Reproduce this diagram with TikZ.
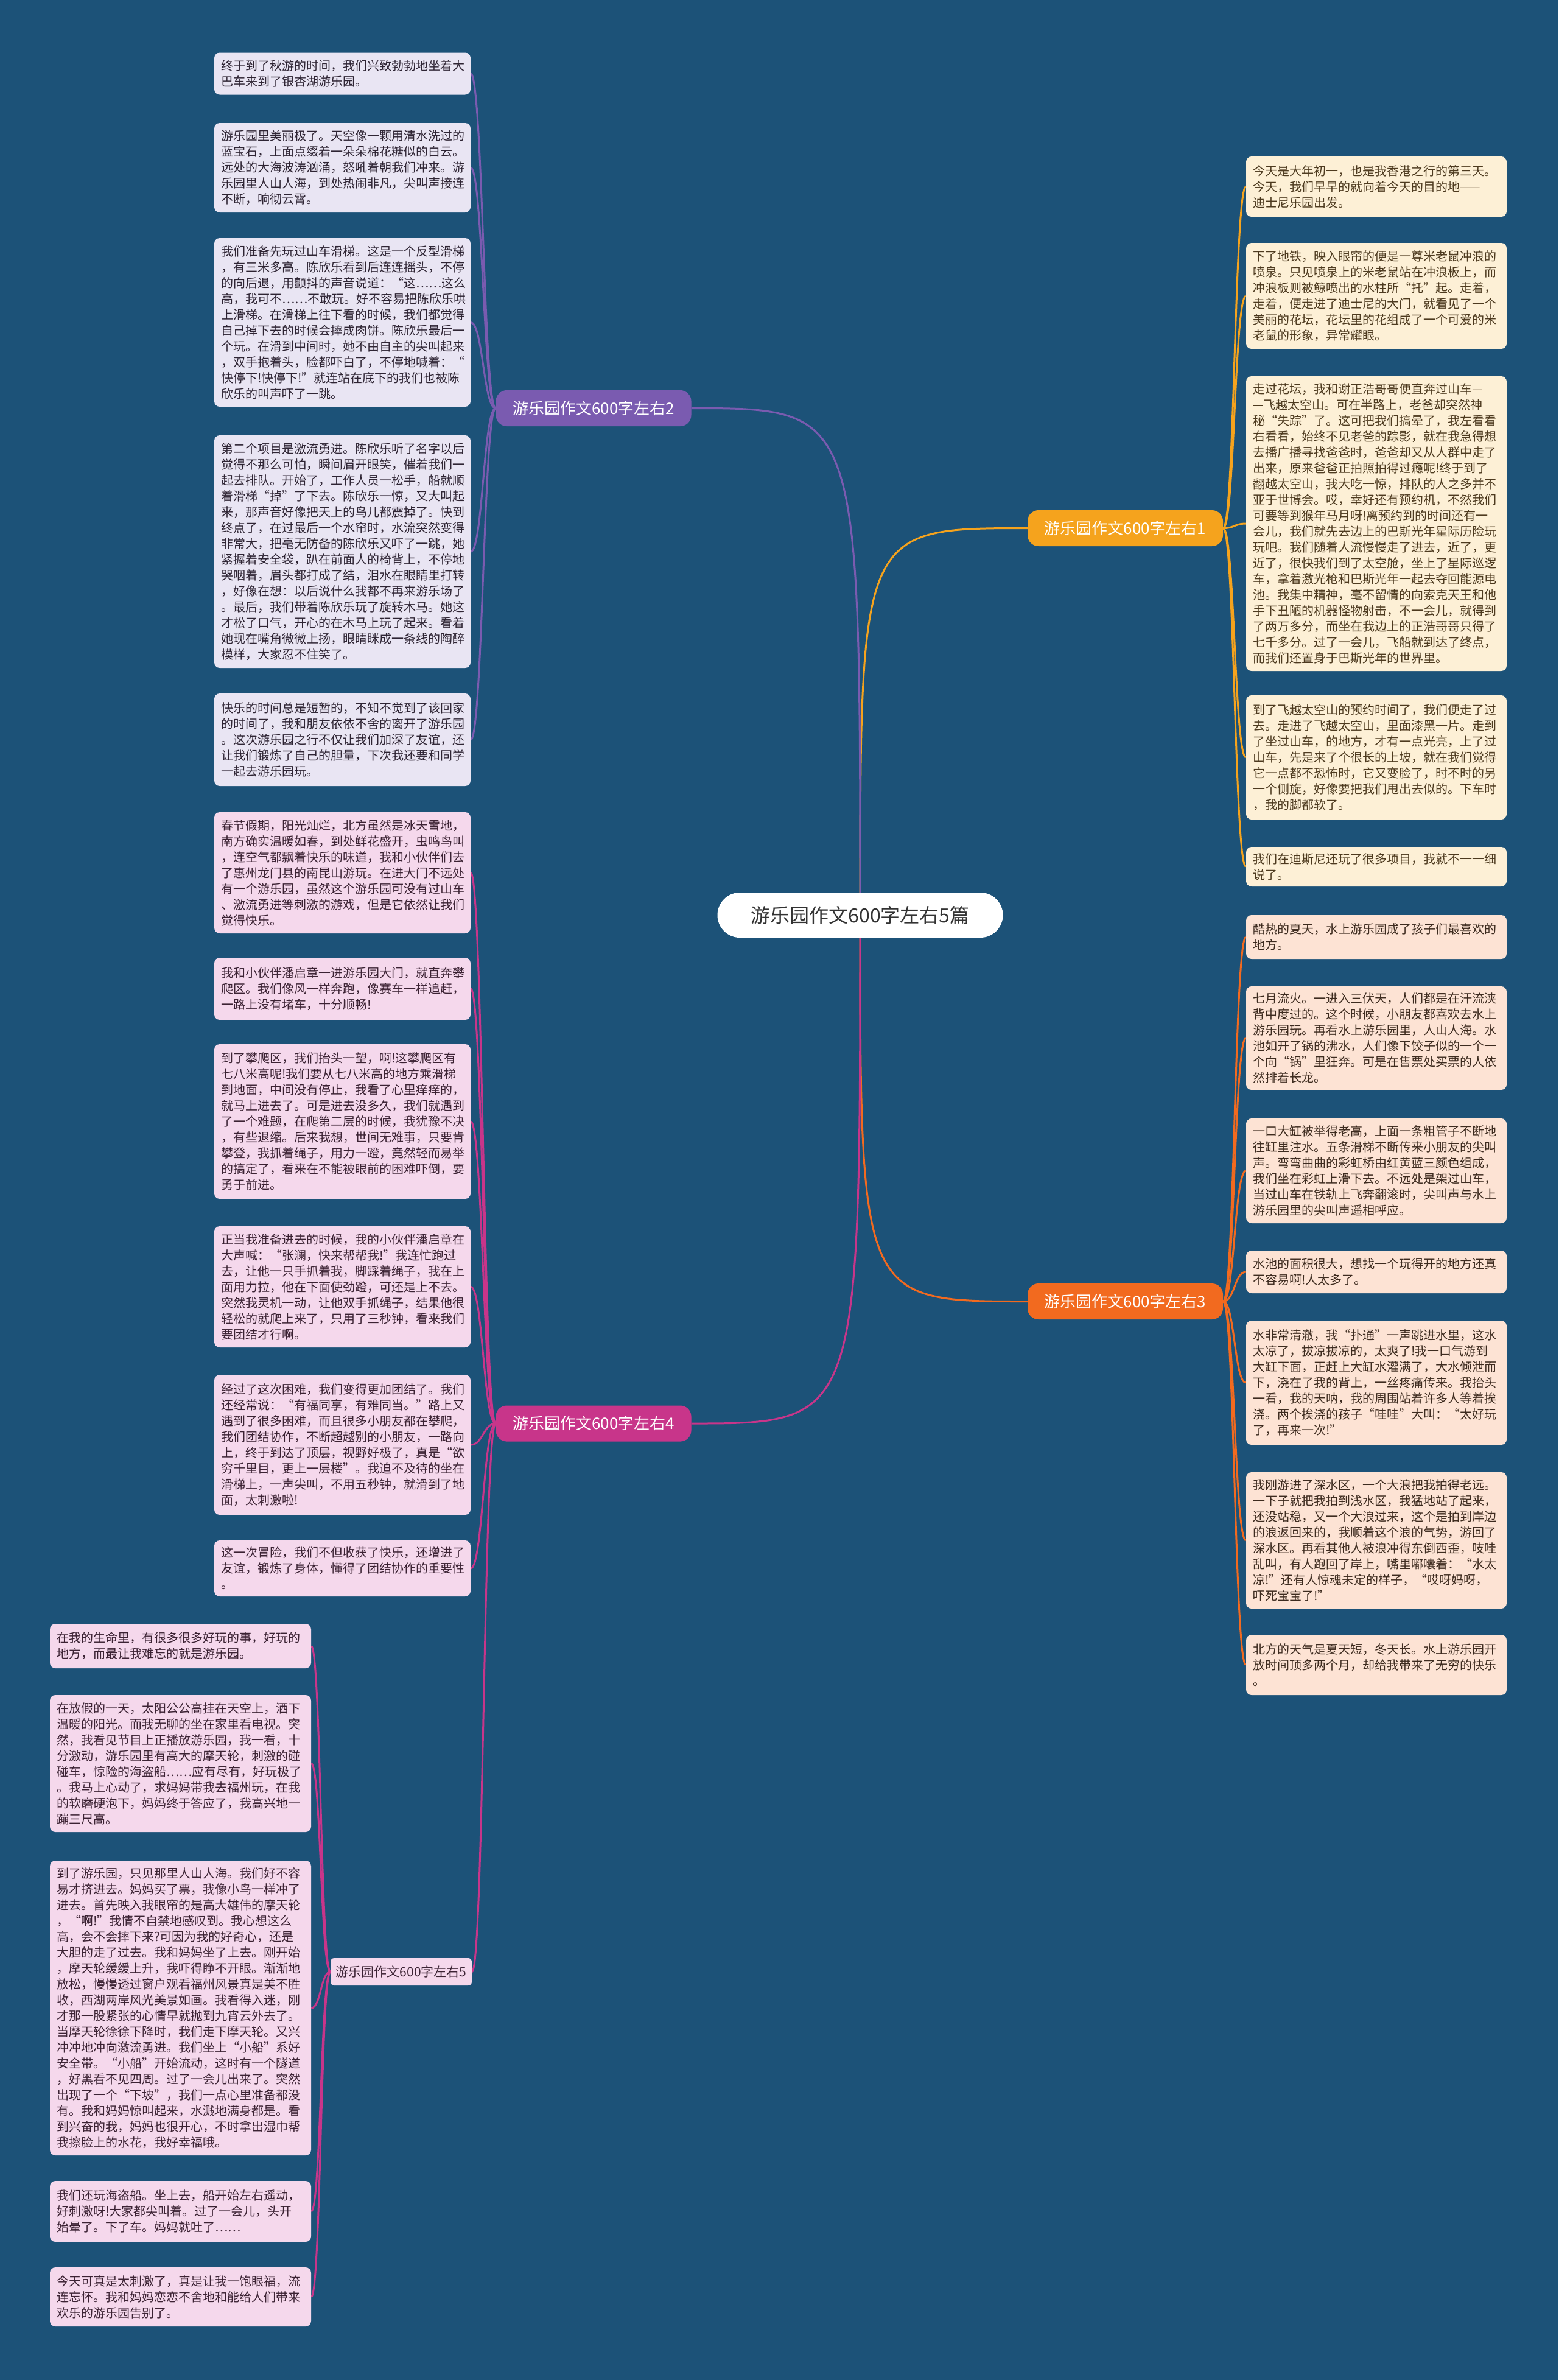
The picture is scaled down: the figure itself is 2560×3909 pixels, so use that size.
\documentclass[tikz,border=0pt]{standalone}
\usepackage{fontspec}
\setmainfont{Noto Sans CJK SC}
\definecolor{bgc}{HTML}{1C5278}
\definecolor{c1}{HTML}{F5A31D}
\definecolor{c2}{HTML}{7A5BB0}
\definecolor{c3}{HTML}{F26A1F}
\definecolor{c4}{HTML}{C8358A}
\definecolor{f1}{HTML}{FDF0D6}
\definecolor{f2}{HTML}{E9E5F3}
\definecolor{f3}{HTML}{FDE3D4}
\definecolor{f4}{HTML}{F5D8EC}
\definecolor{t1}{HTML}{4D3A1F}
\definecolor{t2}{HTML}{2E2433}
\definecolor{t3}{HTML}{3D2B1F}
\definecolor{t4}{HTML}{3B2233}
\pgfdeclarelayer{bglayer}
\pgfdeclarelayer{lines}
\pgfsetlayers{bglayer,lines,main}
\tikzset{
  leafbox/.style={rounded corners=9pt, align=left, inner xsep=11pt, inner ysep=0pt,
    font=\fontsize{20}{26}\selectfont, anchor=center},
  leftleaf/.style={leafbox, text width=399pt},
  rightleaf/.style={leafbox, text width=406pt},
  farleaf/.style={leafbox, text width=407pt},
  l2/.style={leftleaf, fill=f2, text=t2},
  l4/.style={leftleaf, fill=f4, text=t4},
  l5/.style={farleaf, fill=f4, text=t4},
  l1/.style={rightleaf, fill=f1, text=t1},
  l3/.style={rightleaf, fill=f3, text=t3},
  branchbox/.style={rounded corners=18pt, minimum width=321pt, minimum height=59pt,
    text=white, font=\fontsize{26}{30}\selectfont, inner sep=0pt},
  centerbox/.style={rounded corners=37pt, minimum width=469pt, minimum height=74pt,
    fill=white, text=black!80, font=\fontsize{32}{36}\selectfont, inner sep=0pt},
  conn/.style={line width=3pt},
}
\begin{document}
\begin{tikzpicture}[x=1pt,y=-1pt]
\begin{pgfonlayer}{bglayer}
\fill[bgc] (0,0) rectangle (2560,3909);
\end{pgfonlayer}
\useasboundingbox (0,0) rectangle (2560,3909);

% center and branches
\node[centerbox] (c) at (1413,1503) {游乐园作文600字左右5篇};
\node[branchbox, fill=c1] (b1) at (1848.5,867.5) {游乐园作文600字左右1};
\node[branchbox, fill=c2] (b2) at (975,670.5) {游乐园作文600字左右2};
\node[branchbox, fill=c3] (b3) at (1848.5,2137.5) {游乐园作文600字左右3};
\node[branchbox, fill=c4] (b4) at (975,2338) {游乐园作文600字左右4};
\node[rounded corners=6pt, minimum width=232pt, minimum height=45pt, inner sep=0pt,
  fill=f4, text=t4, font=\fontsize{21}{24}\selectfont] (b5) at (659,3238.5) {游乐园作文600字左右5};

% branch 2 leaves
\node[l2, minimum height=69pt] (A) at (562.5,121) {终于到了秋游的时间，我们兴致勃勃地坐着大\\巴车来到了银杏湖游乐园。};
\node[l2, minimum height=147pt] (B) at (562.5,275.5) {游乐园里美丽极了。天空像一颗用清水洗过的\\蓝宝石，上面点缀着一朵朵棉花糖似的白云。\\远处的大海波涛汹涌，怒吼着朝我们冲来。游\\乐园里人山人海，到处热闹非凡，尖叫声接连\\不断，响彻云霄。};
\node[l2, minimum height=277pt] (C) at (562.5,529.5) {我们准备先玩过山车滑梯。这是一个反型滑梯\\，有三米多高。陈欣乐看到后连连摇头，不停\\的向后退，用颤抖的声音说道：“这……这么\\高，我可不……不敢玩。好不容易把陈欣乐哄\\上滑梯。在滑梯上往下看的时候，我们都觉得\\自己掉下去的时候会摔成肉饼。陈欣乐最后一\\个玩。在滑到中间时，她不由自主的尖叫起来\\，双手抱着头，脸都吓白了，不停地喊着：“\\快停下!快停下!”就连站在底下的我们也被陈\\欣乐的叫声吓了一跳。};
\node[l2, minimum height=382pt] (D) at (562.5,906) {第二个项目是激流勇进。陈欣乐听了名字以后\\觉得不那么可怕，瞬间眉开眼笑，催着我们一\\起去排队。开始了，工作人员一松手，船就顺\\着滑梯“掉”了下去。陈欣乐一惊，又大叫起\\来，那声音好像把天上的鸟儿都震掉了。快到\\终点了，在过最后一个水帘时，水流突然变得\\非常大，把毫无防备的陈欣乐又吓了一跳，她\\紧握着安全袋，趴在前面人的椅背上，不停地\\哭咽着，眉头都打成了结，泪水在眼睛里打转\\，好像在想：以后说什么我都不再来游乐场了\\。最后，我们带着陈欣乐玩了旋转木马。她这\\才松了口气，开心的在木马上玩了起来。看着\\她现在嘴角微微上扬，眼睛眯成一条线的陶醉\\模样，大家忍不住笑了。};
\node[l2, minimum height=152pt] (E) at (562.5,1215) {快乐的时间总是短暂的，不知不觉到了该回家\\的时间了，我和朋友依依不舍的离开了游乐园\\。这次游乐园之行不仅让我们加深了友谊，还\\让我们锻炼了自己的胆量，下次我还要和同学\\一起去游乐园玩。};

% branch 4 leaves
\node[l4, minimum height=199pt] (F) at (562.5,1433.5) {春节假期，阳光灿烂，北方虽然是冰天雪地，\\南方确实温暖如春，到处鲜花盛开，虫鸣鸟叫\\，连空气都飘着快乐的味道，我和小伙伴们去\\了惠州龙门县的南昆山游玩。在进大门不远处\\有一个游乐园，虽然这个游乐园可没有过山车\\、激流勇进等刺激的游戏，但是它依然让我们\\觉得快乐。};
\node[l4, minimum height=102pt] (G) at (562.5,1624) {我和小伙伴潘启章一进游乐园大门，就直奔攀\\爬区。我们像风一样奔跑，像赛车一样追赶，\\一路上没有堵车，十分顺畅!};
\node[l4, minimum height=254pt] (H) at (562.5,1842) {到了攀爬区，我们抬头一望，啊!这攀爬区有\\七八米高呢!我们要从七八米高的地方乘滑梯\\到地面，中间没有停止，我看了心里痒痒的，\\就马上进去了。可是进去没多久，我们就遇到\\了一个难题，在爬第二层的时候，我犹豫不决\\，有些退缩。后来我想，世间无难事，只要肯\\攀登，我抓着绳子，用力一蹬，竟然轻而易举\\的搞定了，看来在不能被眼前的困难吓倒，要\\勇于前进。};
\node[l4, minimum height=199pt] (I) at (562.5,2113.5) {正当我准备进去的时候，我的小伙伴潘启章在\\大声喊：“张澜，快来帮帮我!”我连忙跑过\\去，让他一只手抓着我，脚踩着绳子，我在上\\面用力拉，他在下面使劲蹬，可还是上不去。\\突然我灵机一动，让他双手抓绳子，结果他很\\轻松的就爬上来了，只用了三秒钟，看来我们\\要团结才行啊。};
\node[l4, minimum height=230pt] (J) at (562.5,2373) {经过了这次困难，我们变得更加团结了。我们\\还经常说：“有福同享，有难同当。”路上又\\遇到了很多困难，而且很多小朋友都在攀爬，\\我们团结协作，不断超越别的小朋友，一路向\\上，终于到达了顶层，视野好极了，真是“欲\\穷千里目，更上一层楼”。我迫不及待的坐在\\滑梯上，一声尖叫，不用五秒钟，就滑到了地\\面，太刺激啦!};
\node[l4, minimum height=92pt] (K) at (562.5,2576) {这一次冒险，我们不但收获了快乐，还增进了\\友谊，锻炼了身体，懂得了团结协作的重要性\\。};

% branch 5 leaves
\node[l5, minimum height=73pt] (L) at (296.5,2703.5) {在我的生命里，有很多很多好玩的事，好玩的\\地方，而最让我难忘的就是游乐园。};
\node[l5, minimum height=225pt] (M) at (296.5,2896.5) {在放假的一天，太阳公公高挂在天空上，洒下\\温暖的阳光。而我无聊的坐在家里看电视。突\\然，我看见节目上正播放游乐园，我一看，十\\分激动，游乐园里有高大的摩天轮，刺激的碰\\碰车，惊险的海盗船……应有尽有，好玩极了\\。我马上心动了，求妈妈带我去福州玩，在我\\的软磨硬泡下，妈妈终于答应了，我高兴地一\\蹦三尺高。};
\node[l5, minimum height=484pt] (N) at (296.5,3298) {到了游乐园，只见那里人山人海。我们好不容\\易才挤进去。妈妈买了票，我像小鸟一样冲了\\进去。首先映入我眼帘的是高大雄伟的摩天轮\\，“啊!”我情不自禁地感叹到。我心想这么\\高，会不会摔下来?可因为我的好奇心，还是\\大胆的走了过去。我和妈妈坐了上去。刚开始\\，摩天轮缓缓上升，我吓得睁不开眼。渐渐地\\放松，慢慢透过窗户观看福州风景真是美不胜\\收，西湖两岸风光美景如画。我看得入迷，刚\\才那一股紧张的心情早就抛到九宵云外去了。\\当摩天轮徐徐下降时，我们走下摩天轮。又兴\\冲冲地冲向激流勇进。我们坐上“小船”系好\\安全带。“小船”开始流动，这时有一个隧道\\，好黑看不见四周。过了一会儿出来了。突然\\出现了一个“下坡”，我们一点心里准备都没\\有。我和妈妈惊叫起来，水溅地满身都是。看\\到兴奋的我，妈妈也很开心，不时拿出湿巾帮\\我擦脸上的水花，我好幸福哦。};
\node[l5, minimum height=100pt] (O) at (296.5,3632) {我们还玩海盗船。坐上去，船开始左右遥动，\\好刺激呀!大家都尖叫着。过了一会儿，头开\\始晕了。下了车。妈妈就吐了……};
\node[l5, minimum height=97pt] (P) at (296.5,3772.5) {今天可真是太刺激了，真是让我一饱眼福，流\\连忘怀。我和妈妈恋恋不舍地和能给人们带来\\欢乐的游乐园告别了。};

% branch 1 leaves
\node[l1, minimum height=99pt] (Q) at (2261,306.5) {今天是大年初一，也是我香港之行的第三天。\\今天，我们早早的就向着今天的目的地——\\迪士尼乐园出发。};
\node[l1, minimum height=174pt] (R) at (2261,486) {下了地铁，映入眼帘的便是一尊米老鼠冲浪的\\喷泉。只见喷泉上的米老鼠站在冲浪板上，而\\冲浪板则被鲸喷出的水柱所“托”起。走着，\\走着，便走进了迪士尼的大门，就看见了一个\\美丽的花坛，花坛里的花组成了一个可爱的米\\老鼠的形象，异常耀眼。};
\node[l1, minimum height=484pt] (S) at (2261,860) {走过花坛，我和谢正浩哥哥便直奔过山车—\\—飞越太空山。可在半路上，老爸却突然神\\秘“失踪”了。这可把我们搞晕了，我左看看\\右看看，始终不见老爸的踪影，就在我急得想\\去播广播寻找爸爸时，爸爸却又从人群中走了\\出来，原来爸爸正拍照拍得过瘾呢!终于到了\\翻越太空山，我大吃一惊，排队的人之多并不\\亚于世博会。哎，幸好还有预约机，不然我们\\可要等到猴年马月呀!离预约到的时间还有一\\会儿，我们就先去边上的巴斯光年星际历险玩\\玩吧。我们随着人流慢慢走了进去，近了，更\\近了，很快我们到了太空舱，坐上了星际巡逻\\车，拿着激光枪和巴斯光年一起去夺回能源电\\池。我集中精神，毫不留情的向索克天王和他\\手下丑陋的机器怪物射击，不一会儿，就得到\\了两万多分，而坐在我边上的正浩哥哥只得了\\七千多分。过了一会儿，飞船就到达了终点，\\而我们还置身于巴斯光年的世界里。};
\node[l1, minimum height=204pt] (T) at (2261,1244) {到了飞越太空山的预约时间了，我们便走了过\\去。走进了飞越太空山，里面漆黑一片。走到\\了坐过山车，的地方，才有一点光亮，上了过\\山车，先是来了个很长的上坡，就在我们觉得\\它一点都不恐怖时，它又变脸了，时不时的另\\一个侧旋，好像要把我们甩出去似的。下车时\\，我的脚都软了。};
\node[l1, minimum height=65pt] (U) at (2261,1423.5) {我们在迪斯尼还玩了很多项目，我就不一一细\\说了。};

% branch 3 leaves
\node[l3, minimum height=72pt] (V) at (2261,1539) {酷热的夏天，水上游乐园成了孩子们最喜欢的\\地方。};
\node[l3, minimum height=170pt] (W) at (2261,1705) {七月流火。一进入三伏天，人们都是在汗流浃\\背中度过的。这个时候，小朋友都喜欢去水上\\游乐园玩。再看水上游乐园里，人山人海。水\\池如开了锅的沸水，人们像下饺子似的一个一\\个向“锅”里狂奔。可是在售票处买票的人依\\然排着长龙。};
\node[l3, minimum height=172pt] (X) at (2261,1923) {一口大缸被举得老高，上面一条粗管子不断地\\往缸里注水。五条滑梯不断传来小朋友的尖叫\\声。弯弯曲曲的彩虹桥由红黄蓝三颜色组成，\\我们坐在彩虹上滑下去。不远处是架过山车，\\当过山车在铁轨上飞奔翻滚时，尖叫声与水上\\游乐园里的尖叫声遥相呼应。};
\node[l3, minimum height=70pt] (Y) at (2261,2089) {水池的面积很大，想找一个玩得开的地方还真\\不容易啊!人太多了。};
\node[l3, minimum height=204pt] (Z) at (2261,2271) {水非常清澈，我“扑通”一声跳进水里，这水\\太凉了，拔凉拔凉的，太爽了!我一口气游到\\大缸下面，正赶上大缸水灌满了，大水倾泄而\\下，浇在了我的背上，一丝疼痛传来。我抬头\\一看，我的天呐，我的周围站着许多人等着挨\\浇。两个挨浇的孩子“哇哇”大叫：“太好玩\\了，再来一次!”};
\node[l3, minimum height=224pt] (AA) at (2261,2530) {我刚游进了深水区，一个大浪把我拍得老远。\\一下子就把我拍到浅水区，我猛地站了起来，\\还没站稳，又一个大浪过来，这个是拍到岸边\\的浪返回来的，我顺着这个浪的气势，游回了\\深水区。再看其他人被浪冲得东倒西歪，吱哇\\乱叫，有人跑回了岸上，嘴里嘟囔着：“水太\\凉!”还有人惊魂未定的样子，“哎呀妈呀，\\吓死宝宝了!”};
\node[l3, minimum height=99pt] (AB) at (2261,2734.5) {北方的天气是夏天短，冬天长。水上游乐园开\\放时间顶多两个月，却给我带来了无穷的快乐\\。};

\begin{pgfonlayer}{lines}
% center to branches
\draw[conn, c1] (c.center) .. controls (1413,867.5) .. (b1.west);
\draw[conn, c3] (c.center) .. controls (1413,2137.5) .. (b3.west);
\draw[conn, c2] (c.center) .. controls (1413,670.5) .. (b2.east);
\draw[conn, c4] (c.center) .. controls (1413,2338) .. (b4.east);
% branch 1
\foreach \n in {Q,R,S,T,U} \draw[conn, c1] (b1.east) .. controls +(19,0) and +(-19,0) .. (\n.west);
% branch 3
\foreach \n in {V,W,X,Y,Z,AA,AB} \draw[conn, c3] (b3.east) .. controls +(19,0) and +(-19,0) .. (\n.west);
% branch 2
\foreach \n in {A,B,C,D,E} \draw[conn, c2] (b2.west) .. controls +(-20,0) and +(20,0) .. (\n.east);
% branch 4 (its children include the sub-node 5)
\foreach \n in {F,G,H,I,J,K,b5} \draw[conn, c4] (b4.west) .. controls +(-20,0) and +(20,0) .. (\n.east);
% sub-node 5
\foreach \n in {L,M,N,O,P} \draw[conn, c4] (b5.west) .. controls +(-16,0) and +(16,0) .. (\n.east);
\end{pgfonlayer}
\end{tikzpicture}
\end{document}
